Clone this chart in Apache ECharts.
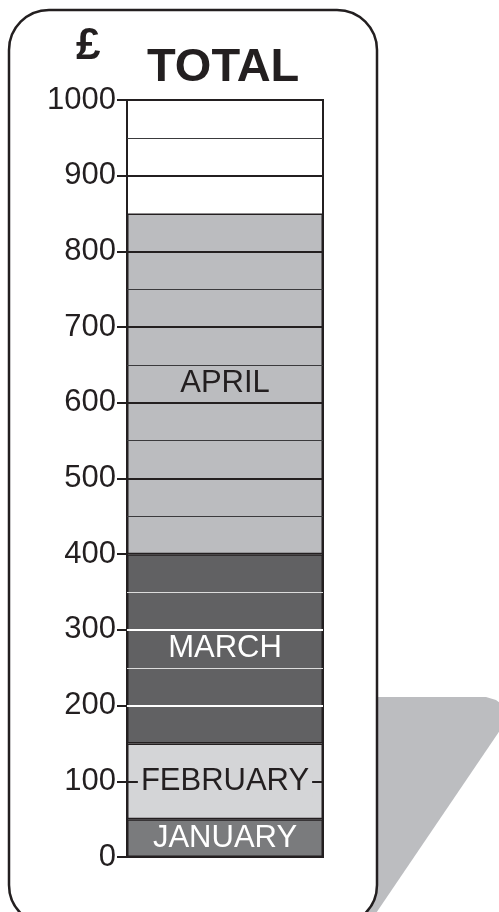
<!DOCTYPE html>
<html>
<head>
<meta charset="utf-8">
<script src="https://cdn.jsdelivr.net/npm/echarts@6/dist/echarts.min.js"></script>
<style>
  html, body { margin: 0; padding: 0; background: #fff; }
  #chart { width: 499px; height: 912px; }
</style>
</head>
<body>
<div id="chart"></div>
<script>
// monthly spend, stacked into one running total (£)
const categories = ['TOTAL'];
const months = ['JANUARY', 'FEBRUARY', 'MARCH', 'APRIL'];
const amounts = [50, 100, 250, 450];
const yTicks = [0, 100, 200, 300, 400, 500, 600, 700, 800, 900, 1000];
const gridLines = [50, 100, 150, 200, 250, 300, 350, 400, 450, 500,
	550, 600, 650, 700, 750, 800, 850, 900, 950];

const monthColors = ['#7a7b7d', '#d4d5d7', '#616163', '#bbbcbf'];
const labelColors = ['#ffffff', '#231f20', '#ffffff', '#231f20'];
const ink = '#231f20';
const font = 'Liberation Sans';

// running tops of each month, used to pick line colours
const tops = [];
amounts.reduce((acc, v) => { tops.push(acc + v); return acc + v; }, 0);
const bottoms = tops.map((t, i) => t - amounts[i]);

function monthAt(v) {
	for (let i = 0; i < tops.length; i++) {
		if (v > bottoms[i] && v < tops[i]) return i;
	}
	return -1;
}

const lineData = gridLines
	.filter(v => tops.indexOf(v) < 0)
	.map(v => {
		const major = yTicks.indexOf(v) >= 0;
		const dark = monthAt(v) === 2;
		return {
			yAxis: v,
			lineStyle: {
				color: dark ? (major ? '#ffffff' : '#dcdcdc') : (major ? ink : '#3a3a3c'),
				width: major ? 2 : 1,
				type: 'solid'
			}
		};
	});

const barSeries = months.map((m, i) => ({
	name: m,
	type: 'bar',
	stack: 'total',
	data: [amounts[i]],
	barWidth: '100%',
	barGap: '-100%',
	z: 2,
	itemStyle: { color: monthColors[i], borderColor: ink, borderWidth: 1.5 },
	markLine: i === 0 ? {
		silent: true,
		symbol: 'none',
		label: { show: false },
		animation: false,
		data: lineData
	} : undefined
}));

// transparent copy on top, only to carry the labels above the grid lines
const labelSeries = months.map((m, i) => ({
	name: m + '_label',
	type: 'bar',
	stack: 'labels',
	data: [amounts[i]],
	barWidth: '100%',
	barGap: '-100%',
	z: 10,
	silent: true,
	itemStyle: { color: 'rgba(0,0,0,0)' },
	label: {
		show: true,
		position: 'inside',
		formatter: m,
		fontFamily: font,
		fontSize: 31,
		color: labelColors[i],
		backgroundColor: i === 1 ? monthColors[1] : 'transparent',
		padding: [0, 3]
	}
}));

const chart = echarts.init(document.getElementById('chart'));
chart.setOption({
	animation: false,
	backgroundColor: '#fff',
	graphic: [
		{
			type: 'polygon',
			z: -2,
			shape: { points: [[340, 697], [486, 697], [496, 700], [505, 707], [511, 714], [368, 925], [340, 925]] },
			style: { fill: '#bcbdc0' }
		},
		{
			type: 'rect',
			z: -1,
			shape: { x: 9, y: 10, width: 368, height: 915, r: 40 },
			style: { fill: '#fff', stroke: ink, lineWidth: 2.5 }
		}
	],
	title: [
		{
			text: 'TOTAL',
			left: 142,
			top: 40,
			textStyle: { fontFamily: font, fontSize: 47, fontWeight: 'bold', color: ink }
		},
		{
			text: '£',
			left: 71,
			top: 20,
			textStyle: { fontFamily: font, fontSize: 44, fontWeight: 'bold', color: ink }
		}
	],
	grid: {
		left: 127, right: 176, top: 100, bottom: 55,
		show: true,
		backgroundColor: '#fff',
		borderColor: ink,
		borderWidth: 2
	},
	xAxis: {
		type: 'category',
		data: categories,
		show: false
	},
	yAxis: {
		type: 'value',
		min: yTicks[0],
		max: yTicks[yTicks.length - 1],
		interval: 100,
		axisLine: { show: true, lineStyle: { color: ink, width: 2 } },
		axisTick: { show: true, length: 10, lineStyle: { color: ink, width: 2 } },
		axisLabel: {
			fontFamily: font, fontSize: 31, color: ink, margin: 11,
			formatter: v => String(v)
		},
		splitLine: { show: false }
	},
	series: barSeries.concat(labelSeries)
});
</script>
</body>
</html>
